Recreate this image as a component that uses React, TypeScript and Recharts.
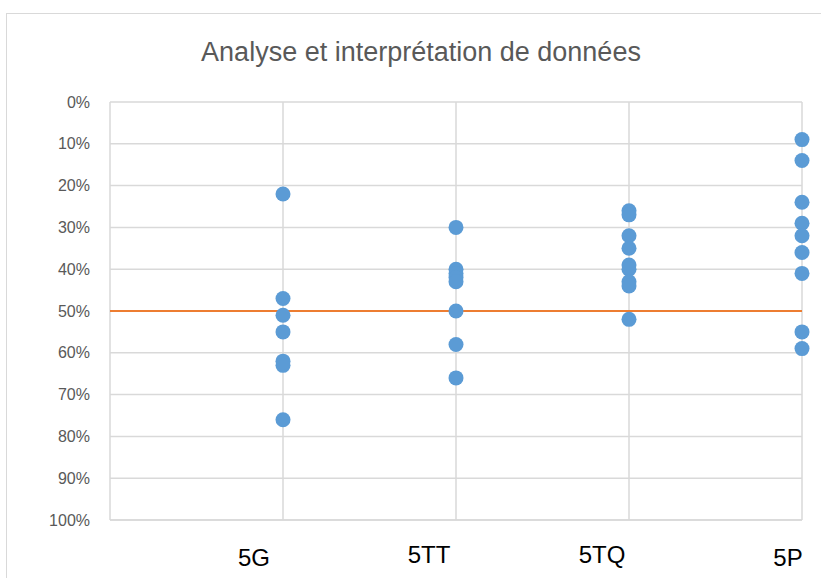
import React from "react";
import {
  ScatterChart,
  Scatter,
  XAxis,
  YAxis,
  CartesianGrid,
  ReferenceLine,
} from "recharts";

const categories = ["5G", "5TT", "5TQ", "5P"];
const values5G = [0.22, 0.47, 0.51, 0.55, 0.62, 0.63, 0.76];
const values5TT = [0.3, 0.4, 0.41, 0.42, 0.43, 0.5, 0.58, 0.66];
const values5TQ = [0.26, 0.27, 0.32, 0.35, 0.39, 0.4, 0.43, 0.44, 0.52];
const values5P = [0.09, 0.14, 0.24, 0.29, 0.32, 0.36, 0.41, 0.55, 0.59];
const seriesValues = [values5G, values5TT, values5TQ, values5P];
const yTicks = [0, 0.1, 0.2, 0.3, 0.4, 0.5, 0.6, 0.7, 0.8, 0.9, 1];
const xTicks = [0, 1, 2, 3, 4];
const threshold = 0.5;
const title = "Analyse et interprétation de données";

const points = seriesValues.flatMap((vals, i) =>
  vals.map((v) => ({ x: i + 1, y: v }))
);

const FONT = "'Liberation Sans', Arial, sans-serif";
const labelOffsets: Record<string, [number, number]> = {
  "5G": [-29, 38],
  "5TT": [-27, 35],
  "5TQ": [-27, 35],
  "5P": [-14, 38],
};

const XTick = (props: any) => {
  const { x, y, payload } = props;
  const idx = payload.value;
  if (idx < 1 || idx > categories.length) return null;
  const label = categories[idx - 1];
  const [dx, dy] = labelOffsets[label] || [0, 30];
  return (
    <text
      x={x + dx}
      y={y + dy}
      textAnchor="middle"
      fill="#000000"
      fontSize={24}
      fontFamily={FONT}
    >
      {label}
    </text>
  );
};

export default function App() {
  return (
    <div style={{ position: "absolute", left: 0, top: 0, width: 821, height: 578, background: "#fff" }}>
      <div
        style={{
          position: "absolute",
          left: 6,
          top: 13,
          width: 830,
          height: 575,
          border: "1px solid #d9d9d9",
          boxSizing: "border-box",
        }}
      />
      <div
        style={{
          position: "absolute",
          left: 0,
          top: 52,
          width: 842,
          textAlign: "center",
          fontFamily: FONT,
          fontSize: 27,
          color: "#595959",
          lineHeight: "30px",
          transform: "translateY(-50%)",
        }}
      >
        {title}
      </div>
      <div style={{ position: "absolute", left: 0, top: 0 }}>
        <ScatterChart
          width={821}
          height={578}
          margin={{ top: 102, right: 19, bottom: 0, left: 10 }}
        >
          <CartesianGrid stroke="#d9d9d9" strokeWidth={1.5} />
          <XAxis
            type="number"
            dataKey="x"
            domain={[0, 4]}
            ticks={xTicks}
            height={58}
            axisLine={{ stroke: "#d9d9d9", strokeWidth: 1.5 }}
            tickLine={false}
            tick={<XTick />}
            interval={0}
          />
          <YAxis
            type="number"
            dataKey="y"
            domain={[0, 1]}
            reversed
            ticks={yTicks}
            width={100}
            axisLine={false}
            tickLine={false}
            tickFormatter={(v: number) => `${Math.round(v * 100)}%`}
            tick={{ fill: "#595959", fontSize: 16, fontFamily: FONT }}
            tickMargin={14}
            interval={0}
          />
          <ReferenceLine y={threshold} stroke="#ED7D31" strokeWidth={2} />
          <Scatter
            data={points}
            fill="#5B9BD5"
            isAnimationActive={false}
            shape={(p: any) => <circle cx={p.cx} cy={p.cy} r={7.5} fill="#5B9BD5" />}
          />
        </ScatterChart>
      </div>
    </div>
  );
}
